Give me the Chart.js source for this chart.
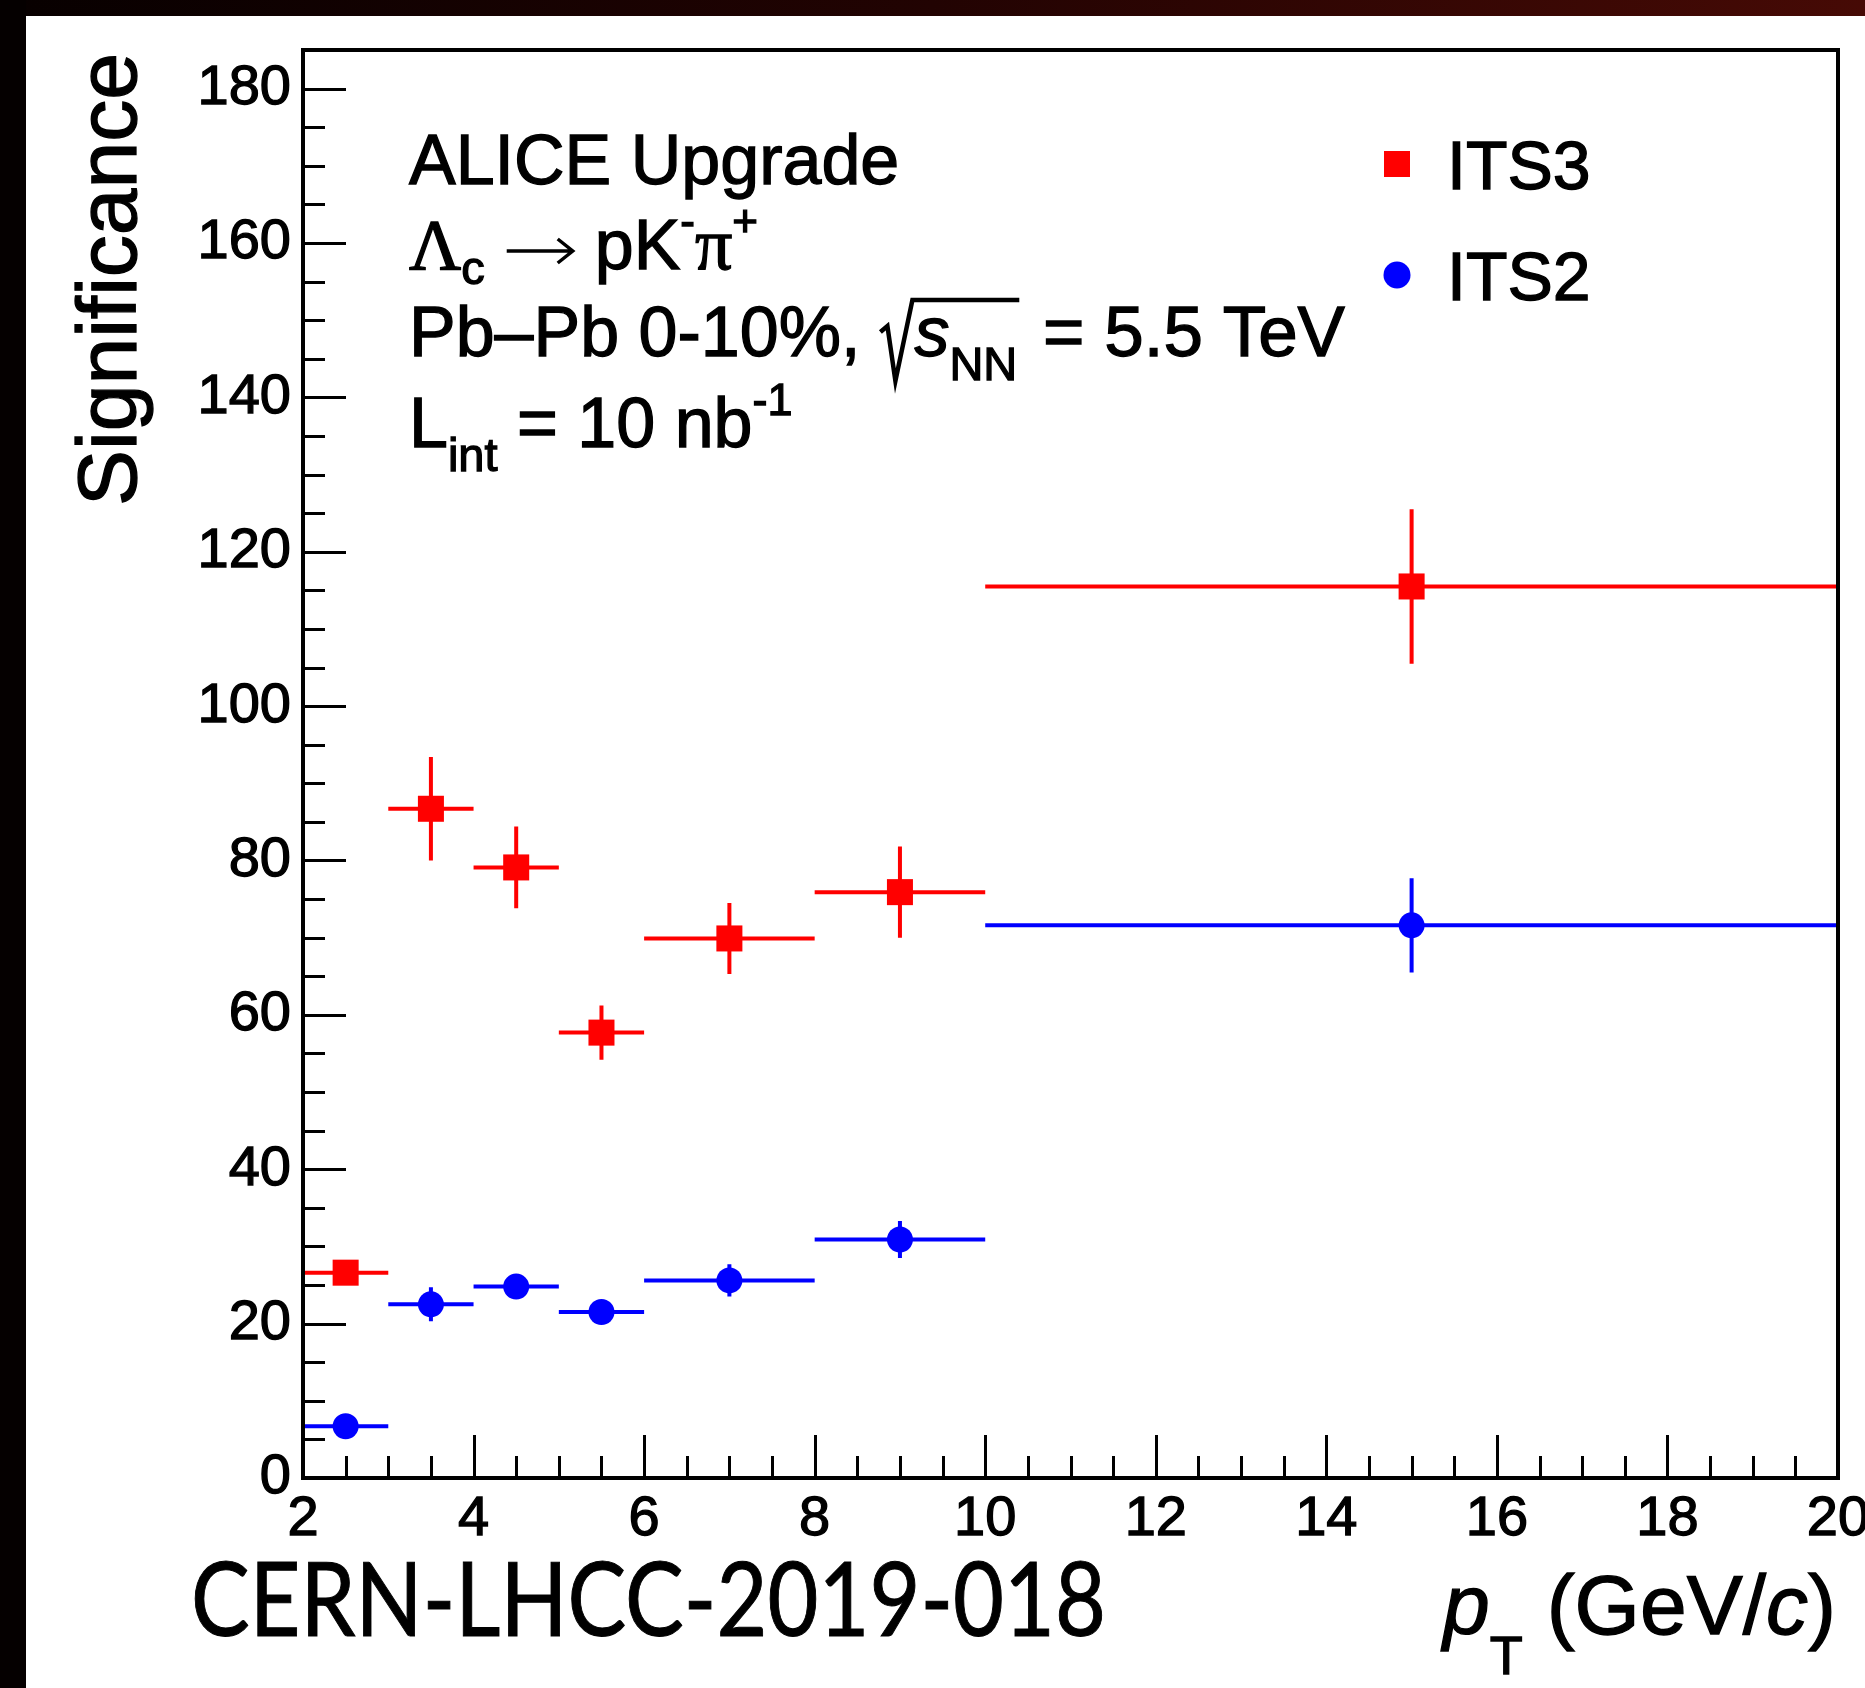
<!DOCTYPE html>
<html>
<head>
<meta charset="utf-8">
<title>Lambda_c significance vs pT</title>
<script src="https://cdn.jsdelivr.net/npm/chart.js@4.4.1/dist/chart.umd.min.js"></script>
<style>
  html, body { margin: 0; padding: 0; background: #fff; }
  canvas { display: block; }
</style>
</head>
<body>
<canvas id="sig" width="1865" height="1688"></canvas>
<script>
// pT bins (GeV/c)
const binLow    = [2, 3, 4, 5, 6, 8, 10];
const binHigh   = [3, 4, 5, 6, 8, 10, 20];
const binCenter = [2.5, 3.5, 4.5, 5.5, 7, 9, 15];

// Expected significance per bin
const its3Values = [26.6, 86.7, 79.1, 57.7, 69.9, 75.9, 115.5];
const its3Errors = [1.2, 6.7, 5.3, 3.5, 4.6, 5.9, 10.0];
const its2Values = [6.7, 22.5, 24.8, 21.5, 25.6, 30.9, 71.6];
const its2Errors = [0.8, 2.2, 1.2, 1.0, 2.1, 2.4, 6.1];

const seriesNames = ['ITS3', 'ITS2'];

// Labelled ticks
const xTickLabels = [2, 4, 6, 8, 10, 12, 14, 16, 18, 20];
const yTickLabels = [0, 20, 40, 60, 80, 100, 120, 140, 160, 180];

const SANS  = '"Liberation Sans", Arial, Helvetica, sans-serif';
const SERIF = '"Liberation Serif", "Times New Roman", serif';
const W = 1865, H = 1688;
const TEXT_STROKE = 1.3;

const font = (size, fam, style) => (style ? style + ' ' : '') + size + 'px ' + fam;

function toPoints(vals) {
  return binCenter.map((x, i) => ({ x: x, y: vals[i] }));
}

// Filled text with a hairline outline for a slightly heavier weight
function text(ctx, t, x, y, maxW) {
  if (maxW) { ctx.fillText(t, x, y, maxW); ctx.strokeText(t, x, y, maxW); }
  else { ctx.fillText(t, x, y); ctx.strokeText(t, x, y); }
}

// Draw a run of text pieces (with sub/superscript offsets); returns end x
function drawRuns(ctx, x, y, runs, dry) {
  for (const r of runs) {
    if (r.gap) { x += r.gap; continue; }
    if (r.draw) { if (!dry) r.draw(ctx, x, y); x += r.width; continue; }
    ctx.font = r.font;
    if (!dry) text(ctx, r.t, x, y + (r.dy || 0));
    x += ctx.measureText(r.t).width;
  }
  return x;
}

// Thin "right arrow" as used in decay notation
function arrow(ctx, x, y) {
  const yc = y - 18, len = 66;
  ctx.save();
  ctx.lineWidth = 3.5;
  ctx.lineCap = 'butt';
  ctx.lineJoin = 'miter';
  ctx.beginPath();
  ctx.moveTo(x, yc); ctx.lineTo(x + len - 2, yc);
  ctx.moveTo(x + len - 15, yc - 12); ctx.lineTo(x + len, yc); ctx.lineTo(x + len - 15, yc + 12);
  ctx.stroke();
  ctx.restore();
}

const rootStyle = {
  id: 'rootStyle',
  beforeDraw(chart) {
    const ctx = chart.ctx;
    ctx.save();
    ctx.fillStyle = '#ffffff';
    ctx.fillRect(0, 0, W, H);
    const g = ctx.createLinearGradient(0, 0, W, 0);
    g.addColorStop(0, '#070000');
    g.addColorStop(0.5, '#220302');
    g.addColorStop(1, '#460a05');
    ctx.fillStyle = g;
    ctx.fillRect(0, 0, W, 16);
    ctx.fillStyle = '#050000';
    ctx.fillRect(0, 0, 26, H);
    ctx.restore();
  },
  beforeDatasetsDraw(chart) {
    const ctx = chart.ctx;
    const xs = chart.scales.x, ys = chart.scales.y;
    ctx.save();
    ctx.lineWidth = 4;
    ctx.lineCap = 'butt';
    chart.data.datasets.forEach(ds => {
      ctx.strokeStyle = ds.pointBackgroundColor;
      ds.data.forEach((p, j) => {
        const yp = ys.getPixelForValue(p.y);
        const xl = xs.getPixelForValue(binLow[j]);
        const xh = xs.getPixelForValue(binHigh[j]);
        const xc = xs.getPixelForValue(p.x);
        ctx.beginPath();
        ctx.moveTo(xl, yp); ctx.lineTo(xh, yp);
        ctx.moveTo(xc, ys.getPixelForValue(p.y + ds.errors[j]));
        ctx.lineTo(xc, ys.getPixelForValue(p.y - ds.errors[j]));
        ctx.stroke();
      });
    });
    ctx.restore();
  },
  afterDraw(chart) {
    const ctx = chart.ctx;
    const a = chart.chartArea;
    const xs = chart.scales.x, ys = chart.scales.y;
    ctx.save();

    // tick marks (inside the frame, left and bottom only)
    ctx.strokeStyle = '#000';
    ctx.lineWidth = 3;
    ctx.beginPath();
    ys.ticks.forEach(t => {
      if (t.value <= ys.min || t.value >= ys.max) return;
      const len = yTickLabels.includes(t.value) ? 43 : 22;
      const y = Math.round(ys.getPixelForValue(t.value)) + 0.5;
      ctx.moveTo(a.left, y); ctx.lineTo(a.left + len, y);
    });
    xs.ticks.forEach(t => {
      if (t.value <= xs.min || t.value >= xs.max) return;
      const len = xTickLabels.includes(t.value) ? 43 : 22;
      const x = Math.round(xs.getPixelForValue(t.value)) + 0.5;
      ctx.moveTo(x, a.bottom); ctx.lineTo(x, a.bottom - len);
    });
    ctx.stroke();

    // frame
    ctx.lineWidth = 4;
    ctx.strokeRect(a.left, a.top, a.right - a.left, a.bottom - a.top);

    // legend
    ctx.textBaseline = 'alphabetic';
    ctx.textAlign = 'left';
    ctx.lineWidth = TEXT_STROKE;
    ctx.strokeStyle = '#000';
    const legendY = [164, 275];
    chart.data.datasets.forEach((ds, i) => {
      ctx.fillStyle = ds.pointBackgroundColor;
      if (ds.pointStyle === 'rect') {
        ctx.fillRect(1384, legendY[i] - 13, 26, 26);
      } else {
        ctx.beginPath();
        ctx.arc(1397, legendY[i], 13.5, 0, Math.PI * 2);
        ctx.fill();
      }
      ctx.fillStyle = '#000';
      ctx.font = font(68, SANS);
      text(ctx, ds.label, 1447, legendY[i] + 25);
    });

    // annotation text
    ctx.fillStyle = '#000';
    drawRuns(ctx, 409, 184, [{ t: 'ALICE Upgrade', font: font(70, SANS) }]);

    drawRuns(ctx, 409, 269, [
      { t: '\u039B', font: font(72, SERIF) },
      { t: 'c', font: font(47, SANS), dy: 15 },
      { gap: 22 },
      { draw: arrow, width: 66 },
      { gap: 22 },
      { t: 'pK', font: font(70, SANS) },
      { t: '-', font: font(44, SANS), dy: -33 },
      { t: '\u03C0', font: font(74, SERIF) },
      { t: '+', font: font(44, SANS), dy: -33 }
    ]);

    const b3 = 356;
    let x3 = drawRuns(ctx, 409, b3, [{ t: 'Pb\u2013Pb 0-10%,', font: font(70, SANS) }]);
    const r0 = x3 + 20;
    const sEnd = drawRuns(ctx, r0 + 34, b3, [
      { t: 's', font: font(70, SANS, 'italic') },
      { t: 'NN', font: font(47, SANS), dy: 24 }
    ]);
    ctx.lineWidth = 4.5;
    ctx.lineJoin = 'miter';
    ctx.beginPath();
    ctx.moveTo(r0, b3 - 24);
    ctx.lineTo(r0 + 7, b3 - 30);
    ctx.lineTo(r0 + 15, b3 + 25);
    ctx.lineTo(r0 + 32, b3 - 56);
    ctx.lineTo(sEnd + 2, b3 - 56);
    ctx.stroke();
    ctx.lineWidth = TEXT_STROKE;
    drawRuns(ctx, sEnd + 6, b3, [{ t: ' = 5.5 TeV', font: font(71, SANS) }]);

    drawRuns(ctx, 409, 447, [
      { t: 'L', font: font(70, SANS) },
      { t: 'int', font: font(47, SANS), dy: 24 },
      { t: ' = 10 nb', font: font(70, SANS) },
      { t: '-1', font: font(45, SANS), dy: -32 }
    ]);

    // x axis title, right aligned to the frame
    const xTitle = [
      { t: 'p', font: font(84, SANS, 'italic') },
      { t: 'T', font: font(54, SANS), dy: 40 },
      { gap: 24 },
      { t: '(GeV/', font: font(84, SANS) },
      { t: 'c', font: font(84, SANS, 'italic') },
      { t: ')', font: font(84, SANS) }
    ];
    const wT = drawRuns(ctx, 0, 0, xTitle, true);
    drawRuns(ctx, 1836 - wT, 1634, xTitle);

    // y axis title
    ctx.save();
    ctx.translate(136, 53);
    ctx.rotate(-Math.PI / 2);
    ctx.textAlign = 'right';
    ctx.font = font(84, SANS);
    text(ctx, 'Significance', 0, 0);
    ctx.restore();

    // document reference
    ctx.font = font(102, 'Lato, "Noto Sans", sans-serif');
    ctx.textAlign = 'left';
    ctx.lineWidth = 1;
    text(ctx, 'CERN-LHCC-2019-018', 191, 1636, 915);

    ctx.restore();
  }
};

new Chart(document.getElementById('sig'), {
  type: 'scatter',
  data: {
    datasets: [
      {
        label: seriesNames[0],
        data: toPoints(its3Values),
        errors: its3Errors,
        pointStyle: 'rect',
        pointRadius: 18.4,
        pointBackgroundColor: '#ff0000',
        backgroundColor: '#ff0000',
        pointBorderWidth: 0,
        showLine: false
      },
      {
        label: seriesNames[1],
        data: toPoints(its2Values),
        errors: its2Errors,
        pointStyle: 'circle',
        pointRadius: 13,
        pointBackgroundColor: '#0000ff',
        backgroundColor: '#0000ff',
        pointBorderWidth: 0,
        showLine: false
      }
    ]
  },
  options: {
    responsive: false,
    animation: false,
    devicePixelRatio: 1,
    events: [],
    layout: { padding: { left: 0, top: 50, right: 27, bottom: 0 } },
    plugins: { legend: { display: false }, tooltip: { enabled: false } },
    scales: {
      x: {
        type: 'linear',
        min: 2, max: 20,
        grid: { display: false, drawTicks: false, tickLength: 0 },
        border: { display: false },
        ticks: {
          stepSize: 0.5,
          autoSkip: false,
          maxRotation: 0, minRotation: 0,
          padding: 8,
          color: '#000',
          textStrokeColor: '#000',
          textStrokeWidth: TEXT_STROKE,
          font: { family: SANS, size: 56 },
          callback: v => xTickLabels.includes(v) ? String(v) : ''
        },
        afterFit: s => { s.height = 210; s.paddingLeft = 0; s.paddingRight = 0; }
      },
      y: {
        type: 'linear',
        min: 0, max: 185,
        grid: { display: false, drawTicks: false, tickLength: 0 },
        border: { display: false },
        ticks: {
          stepSize: 5,
          autoSkip: false,
          padding: 12,
          color: '#000',
          textStrokeColor: '#000',
          textStrokeWidth: TEXT_STROKE,
          font: { family: SANS, size: 56 },
          callback: v => yTickLabels.includes(v) ? String(v) : ''
        },
        afterFit: s => { s.width = 303; s.paddingTop = 0; s.paddingBottom = 0; }
      }
    }
  },
  plugins: [rootStyle]
});
</script>
</body>
</html>
